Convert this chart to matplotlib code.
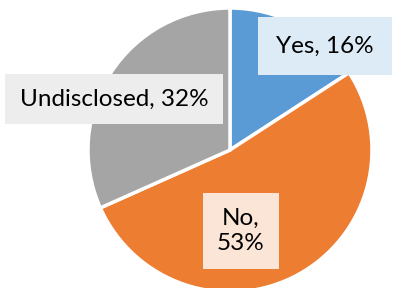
import matplotlib.pyplot as plt

# datos
etiquetas = ['Yes', 'No', 'Undisclosed']
valores = [16, 53, 32]
colores = ['#5B9BD5', '#ED7D31', '#A5A5A5']
colores_caja = ['#DDEBF7', '#FBE5D6', '#EDEDED']

plt.rcParams['font.family'] = ['Lato', 'DejaVu Sans']

fig = plt.figure(figsize=(3.95, 2.88), dpi=100)
ax = fig.add_axes([0, 0, 1, 1])

# pie en coordenadas de pixel
ax.pie(valores, colors=colores, startangle=90, counterclock=False,
       center=(230, 138), radius=142,
       wedgeprops=dict(edgecolor='white', linewidth=2.5))
ax.set_xlim(0, 395)
ax.set_ylim(0, 288)
ax.set_aspect('equal')
ax.axis('off')

# etiquetas con caja
textos = ['Yes, 16%', 'No,\n53%', 'Undisclosed, 32%']
pos = [(325, 242), (241, 57), (114, 189)]
pads = [0.75, 0.6, 0.6]
for t, (x, y), c, p in zip(textos, pos, colores_caja, pads):
    ax.text(x, y, t, ha='center', va='center', fontsize=17.5, color='black',
            linespacing=1.25,
            bbox=dict(boxstyle='square,pad=%s' % p, facecolor=c, edgecolor='none'))

fig.savefig('out.png', dpi=100)
